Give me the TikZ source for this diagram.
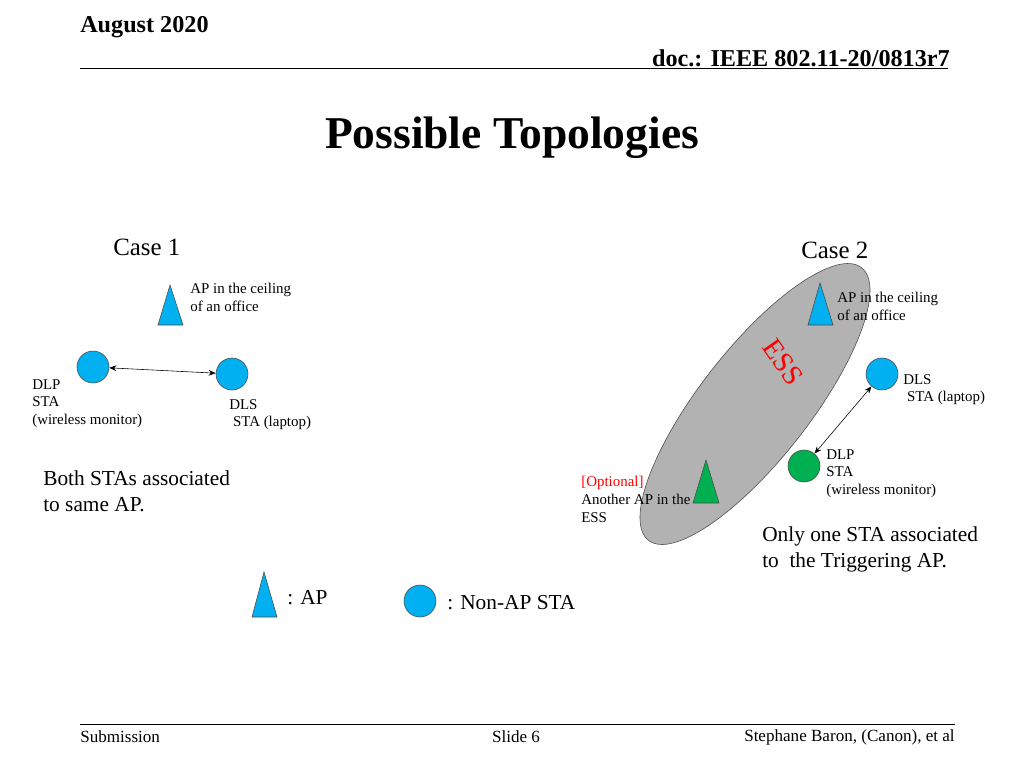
\documentclass[tikz,border=0pt]{standalone}
\usepackage{fontspec}
\setmainfont{Liberation Serif}
\usetikzlibrary{arrows.meta}
\definecolor{apblue}{RGB}{0,176,240}
\definecolor{stagreen}{RGB}{0,176,80}
\tikzset{
  ap/.style={draw=black!70, fill=apblue},
  sta/.style={circle, draw=black!70, fill=apblue, minimum size=22.5pt, inner sep=0pt},
  small/.style={font=\fontsize{10.5}{12.5}\selectfont, align=left, anchor=north west, inner sep=0pt},
  big/.style={font=\fontsize{15}{18.5}\selectfont, align=left, anchor=north west, inner sep=0pt},
  link/.style={<->, >={Stealth[length=5pt,width=4pt]}, thin}
}
\begin{document}
\begin{tikzpicture}[x=0.703pt, y=-0.703pt]
  \useasboundingbox (0,0) rectangle (1024,768);

  % header and footer
  \node [anchor=west, inner sep=0pt, font=\fontsize{17}{19}\bfseries] (month) at (80,27) {August 2020};
  \node [anchor=east, inner sep=0pt, font=\fontsize{17}{19}\bfseries] (doc) at (950,58) {doc.: IEEE 802.11-20/0813r7};
  \draw [thin] (80,68) -- (948,68);
  \node [font=\fontsize{32}{36}\bfseries] (title) at (512,138) {Possible Topologies};
  \draw [thin] (80,724) -- (955,724);
  \node [anchor=west, inner sep=0pt, font=\fontsize{12}{14}\selectfont] (sub) at (80,737) {Submission};
  \node [inner sep=0pt, font=\fontsize{12}{14}\selectfont] (slide) at (516,737) {Slide 6};
  \node [anchor=east, inner sep=0pt, font=\fontsize{12}{14}\selectfont] (auth) at (955,737) {Stephane Baron, (Canon), et al};

  % case 1
  \node [anchor=west, inner sep=0pt, font=\fontsize{17.5}{20}\selectfont] (case1) at (113,247) {Case 1};
  \draw [ap] (170,285) -- (183,325) -- (158,325) -- cycle;
  \node [small] (aplab1) at (190,283) {AP in the ceiling\\of an office};
  \node [sta] (dlp1) at (93,367) {};
  \node [sta] (dls1) at (232,374) {};
  \draw [link] (dlp1) -- (dls1);
  \node [small] (dlplab1) at (32,379) {DLP\\STA\\(wireless monitor)};
  \node [small] (dlslab1) at (229,399) {DLS\\\ STA (laptop)};
  \node [big] (note1) at (43,470) {Both STAs associated\\to same AP.};

  % case 2
  \node [anchor=west, inner sep=0pt, font=\fontsize{17.5}{20}\selectfont] (case2) at (801,250) {Case 2};
  \draw [draw=black!70, fill=black!30, rotate around={52:(755,404)}] (755,404) ellipse (173 and 55);
  \node [text=red, rotate=-55, font=\fontsize{20}{22}\selectfont] (ess) at (783,362) {ESS};
  \draw [ap] (820,283) -- (833,325) -- (808,325) -- cycle;
  \node [small] (aplab2) at (837,292) {AP in the ceiling\\of an office};
  \node [sta] (dls2) at (882,374) {};
  \node [sta, fill=stagreen] (dlp2) at (804,466) {};
  \draw [link] (dls2) -- (dlp2);
  \node [small] (dlslab2) at (903,374) {DLS\\\ STA (laptop)};
  \node [small] (dlplab2) at (826,449) {DLP\\STA\\(wireless monitor)};
  \draw [ap, fill=stagreen] (706,460) -- (719,503) -- (693,503) -- cycle;
  \node [small] (optlab) at (581,476) {\textcolor{red}{[Optional]}\\Another AP in the\\ESS};
  \node [big] (note2) at (762,526) {Only one STA associated\\to\ \ the Triggering AP.};

  % legend
  \draw [ap] (264,572) -- (277,617) -- (252,617) -- cycle;
  \node [anchor=west, inner sep=0pt, font=\fontsize{15}{17}\selectfont] (leg1) at (287,598) {: AP};
  \node [sta] (legsta) at (420,601) {};
  \node [anchor=west, inner sep=0pt, font=\fontsize{15}{17}\selectfont] (leg2) at (447,603) {: Non-AP STA};
\end{tikzpicture}
\end{document}
